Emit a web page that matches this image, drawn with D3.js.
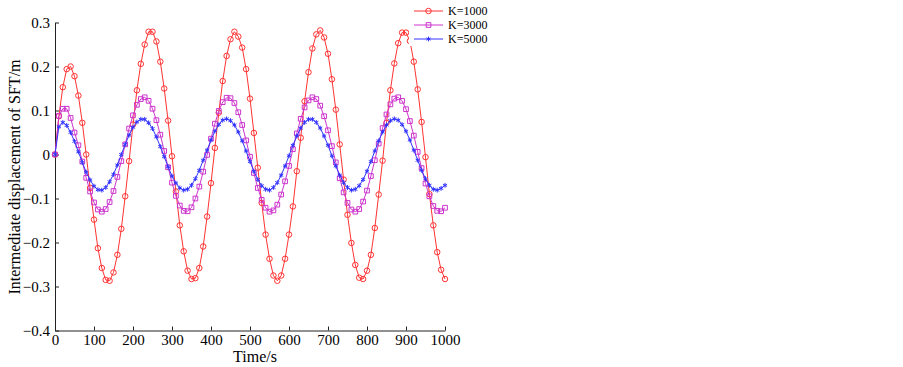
<!DOCTYPE html>
<html>
<head>
<meta charset="utf-8">
<script src="https://cdn.jsdelivr.net/npm/d3@7"></script>
<style>
  body { margin: 0; background: #fff; }
  svg { display: block; font-family: "Liberation Serif", "Times New Roman", serif; }
</style>
</head>
<body>
<svg id="chart" width="903" height="367"></svg>
<script>
const times = [0, 10, 20, 30, 40, 50, 60, 70, 80, 90,
  100, 110, 120, 130, 140, 150, 160, 170, 180, 190,
  200, 210, 220, 230, 240, 250, 260, 270, 280, 290,
  300, 310, 320, 330, 340, 350, 360, 370, 380, 390,
  400, 410, 420, 430, 440, 450, 460, 470, 480, 490,
  500, 510, 520, 530, 540, 550, 560, 570, 580, 590,
  600, 610, 620, 630, 640, 650, 660, 670, 680, 690,
  700, 710, 720, 730, 740, 750, 760, 770, 780, 790,
  800, 810, 820, 830, 840, 850, 860, 870, 880, 890,
  900, 910, 920, 930, 940, 950, 960, 970, 980, 990,
  1000];

const k1000 = [0, 0.087, 0.153, 0.194, 0.200, 0.178, 0.134, 0.072, 0.000, -0.076,
  -0.148, -0.213, -0.258, -0.285, -0.287, -0.268, -0.228, -0.169, -0.095, -0.015,
  0.068, 0.146, 0.206, 0.250, 0.279, 0.279, 0.257, 0.211, 0.150, 0.077,
  -0.004, -0.084, -0.161, -0.220, -0.264, -0.283, -0.281, -0.258, -0.209, -0.141,
  -0.065, 0.015, 0.095, 0.167, 0.224, 0.262, 0.279, 0.268, 0.243, 0.194,
  0.127, 0.049, -0.030, -0.110, -0.182, -0.237, -0.275, -0.287, -0.275, -0.237,
  -0.182, -0.118, -0.038, 0.038, 0.121, 0.187, 0.241, 0.273, 0.282, 0.266,
  0.229, 0.171, 0.102, 0.023, -0.057, -0.137, -0.201, -0.251, -0.280, -0.283,
  -0.264, -0.228, -0.167, -0.091, -0.014, 0.072, 0.146, 0.207, 0.253, 0.277,
  0.277, 0.258, 0.211, 0.148, 0.074, -0.006, -0.090, -0.161, -0.222, -0.262,
  -0.283];

const k3000 = [0, 0.088, 0.104, 0.104, 0.083, 0.050, 0.021, -0.016, -0.053, -0.084,
  -0.109, -0.125, -0.130, -0.124, -0.108, -0.083, -0.051, -0.015, 0.023, 0.059,
  0.089, 0.113, 0.126, 0.130, 0.122, 0.104, 0.078, 0.045, 0.008, -0.029,
  -0.064, -0.094, -0.116, -0.128, -0.129, -0.120, -0.100, -0.073, -0.039, -0.001,
  0.036, 0.070, 0.099, 0.119, 0.129, 0.128, 0.117, 0.096, 0.067, 0.032,
  -0.005, -0.042, -0.076, -0.103, -0.121, -0.130, -0.127, -0.114, -0.091, -0.061,
  -0.026, 0.012, 0.048, 0.081, 0.107, 0.123, 0.130, 0.126, 0.111, 0.087,
  0.055, 0.019, -0.018, -0.054, -0.086, -0.110, -0.125, -0.130, -0.124, -0.107,
  -0.082, -0.049, -0.013, 0.025, 0.060, 0.091, 0.114, 0.127, 0.130, 0.122,
  0.103, 0.076, 0.043, 0.006, -0.031, -0.066, -0.095, -0.117, -0.128, -0.129,
  -0.121];

const k5000 = [0, 0.063, 0.073, 0.066, 0.050, 0.030, 0.006, -0.018, -0.040, -0.058,
  -0.072, -0.080, -0.081, -0.075, -0.062, -0.045, -0.024, 0.000, 0.023, 0.044,
  0.062, 0.074, 0.080, 0.080, 0.072, 0.059, 0.040, 0.018, -0.005, -0.028,
  -0.049, -0.065, -0.076, -0.081, -0.079, -0.070, -0.055, -0.036, -0.013, 0.010,
  0.033, 0.053, 0.068, 0.078, 0.081, 0.077, 0.067, 0.051, 0.031, 0.008,
  -0.016, -0.038, -0.057, -0.071, -0.079, -0.081, -0.075, -0.064, -0.047, -0.026,
  -0.003, 0.021, 0.042, 0.060, 0.073, 0.080, 0.080, 0.073, 0.060, 0.042,
  0.021, -0.003, -0.026, -0.047, -0.064, -0.075, -0.081, -0.079, -0.071, -0.057,
  -0.038, -0.016, 0.008, 0.031, 0.051, 0.067, 0.077, 0.081, 0.078, 0.068,
  0.053, 0.033, 0.010, -0.013, -0.036, -0.055, -0.070, -0.079, -0.081, -0.077,
  -0.070];

const xTicks = [0, 100, 200, 300, 400, 500, 600, 700, 800, 900, 1000];
const yTicks = [-0.4, -0.3, -0.2, -0.1, 0, 0.1, 0.2, 0.3];

const seriesNames = ["K=1000", "K=3000", "K=5000"];
const seriesValues = [k1000, k3000, k5000];

const svg = d3.select("#chart");
const colors = ["#ff3333", "#cc33cc", "#3333ff"];
const markers = [d3.symbolCircle, d3.symbolSquare, d3.symbolAsterisk];
const markerSize = [24, 22, 16];

const x = d3.scaleLinear().domain([0, 1000]).range([55, 445]);
const y = d3.scaleLinear().domain([-0.4, 0.3]).range([330.5, 22.5]);

// axes, ticks pointing inward like the original
const xAxis = svg.append("g")
  .attr("transform", `translate(0, ${y(-0.4)})`)
  .call(d3.axisBottom(x).tickValues(xTicks).tickSizeInner(-4).tickSizeOuter(0).tickPadding(4)
    .tickFormat(d => String(d)));

const yAxis = svg.append("g")
  .attr("transform", `translate(${x(0)}, 0)`)
  .call(d3.axisLeft(y).tickValues(yTicks).tickSizeInner(-4).tickSizeOuter(0).tickPadding(5)
    .tickFormat(d => d === 0 ? "0" : d3.format(".1f")(d)));

[xAxis, yAxis].forEach(g => {
  g.selectAll("path, line").attr("stroke", "#222");
  g.selectAll("text").attr("fill", "#000").style("font-size", "15px").style("font-family", "Liberation Serif, serif");
});

svg.append("text")
  .attr("x", 255)
  .attr("y", 362)
  .attr("text-anchor", "middle")
  .style("font-size", "16px")
  .text("Time/s");

svg.append("text")
  .attr("transform", "translate(20, 177) rotate(-90)")
  .attr("text-anchor", "middle")
  .style("font-size", "16px")
  .text("Intermediate displacement of SFT/m");

const line = d3.line()
  .x((d, i) => x(times[i]))
  .y(d => y(d));

seriesValues.forEach((vals, s) => {
  const g = svg.append("g");
  g.append("path")
    .datum(vals)
    .attr("fill", "none")
    .attr("stroke", colors[s])
    .attr("stroke-width", 1)
    .attr("d", line);

  g.selectAll("path.mk")
    .data(vals)
    .join("path")
    .attr("class", "mk")
    .attr("transform", (d, i) => `translate(${x(times[i])}, ${y(d)})`)
    .attr("d", d3.symbol().type(markers[s]).size(markerSize[s]))
    .attr("fill", "none")
    .attr("stroke", colors[s])
    .attr("stroke-width", 1);
});

// legend with white background over the plot
const legend = svg.append("g");
legend.append("rect")
  .attr("x", 409).attr("y", 0)
  .attr("width", 100).attr("height", 46)
  .attr("fill", "#fff");

seriesNames.forEach((name, s) => {
  const cy = 11 + s * 14;
  legend.append("line")
    .attr("x1", 414).attr("x2", 443)
    .attr("y1", cy).attr("y2", cy)
    .attr("stroke", colors[s]).attr("stroke-width", 1);
  legend.append("path")
    .attr("transform", `translate(428.5, ${cy})`)
    .attr("d", d3.symbol().type(markers[s]).size(markerSize[s]))
    .attr("fill", "none")
    .attr("stroke", colors[s]);
  legend.append("text")
    .attr("x", 448)
    .attr("y", cy + 4)
    .style("font-size", "12px")
    .text(name);
});
</script>
</body>
</html>
